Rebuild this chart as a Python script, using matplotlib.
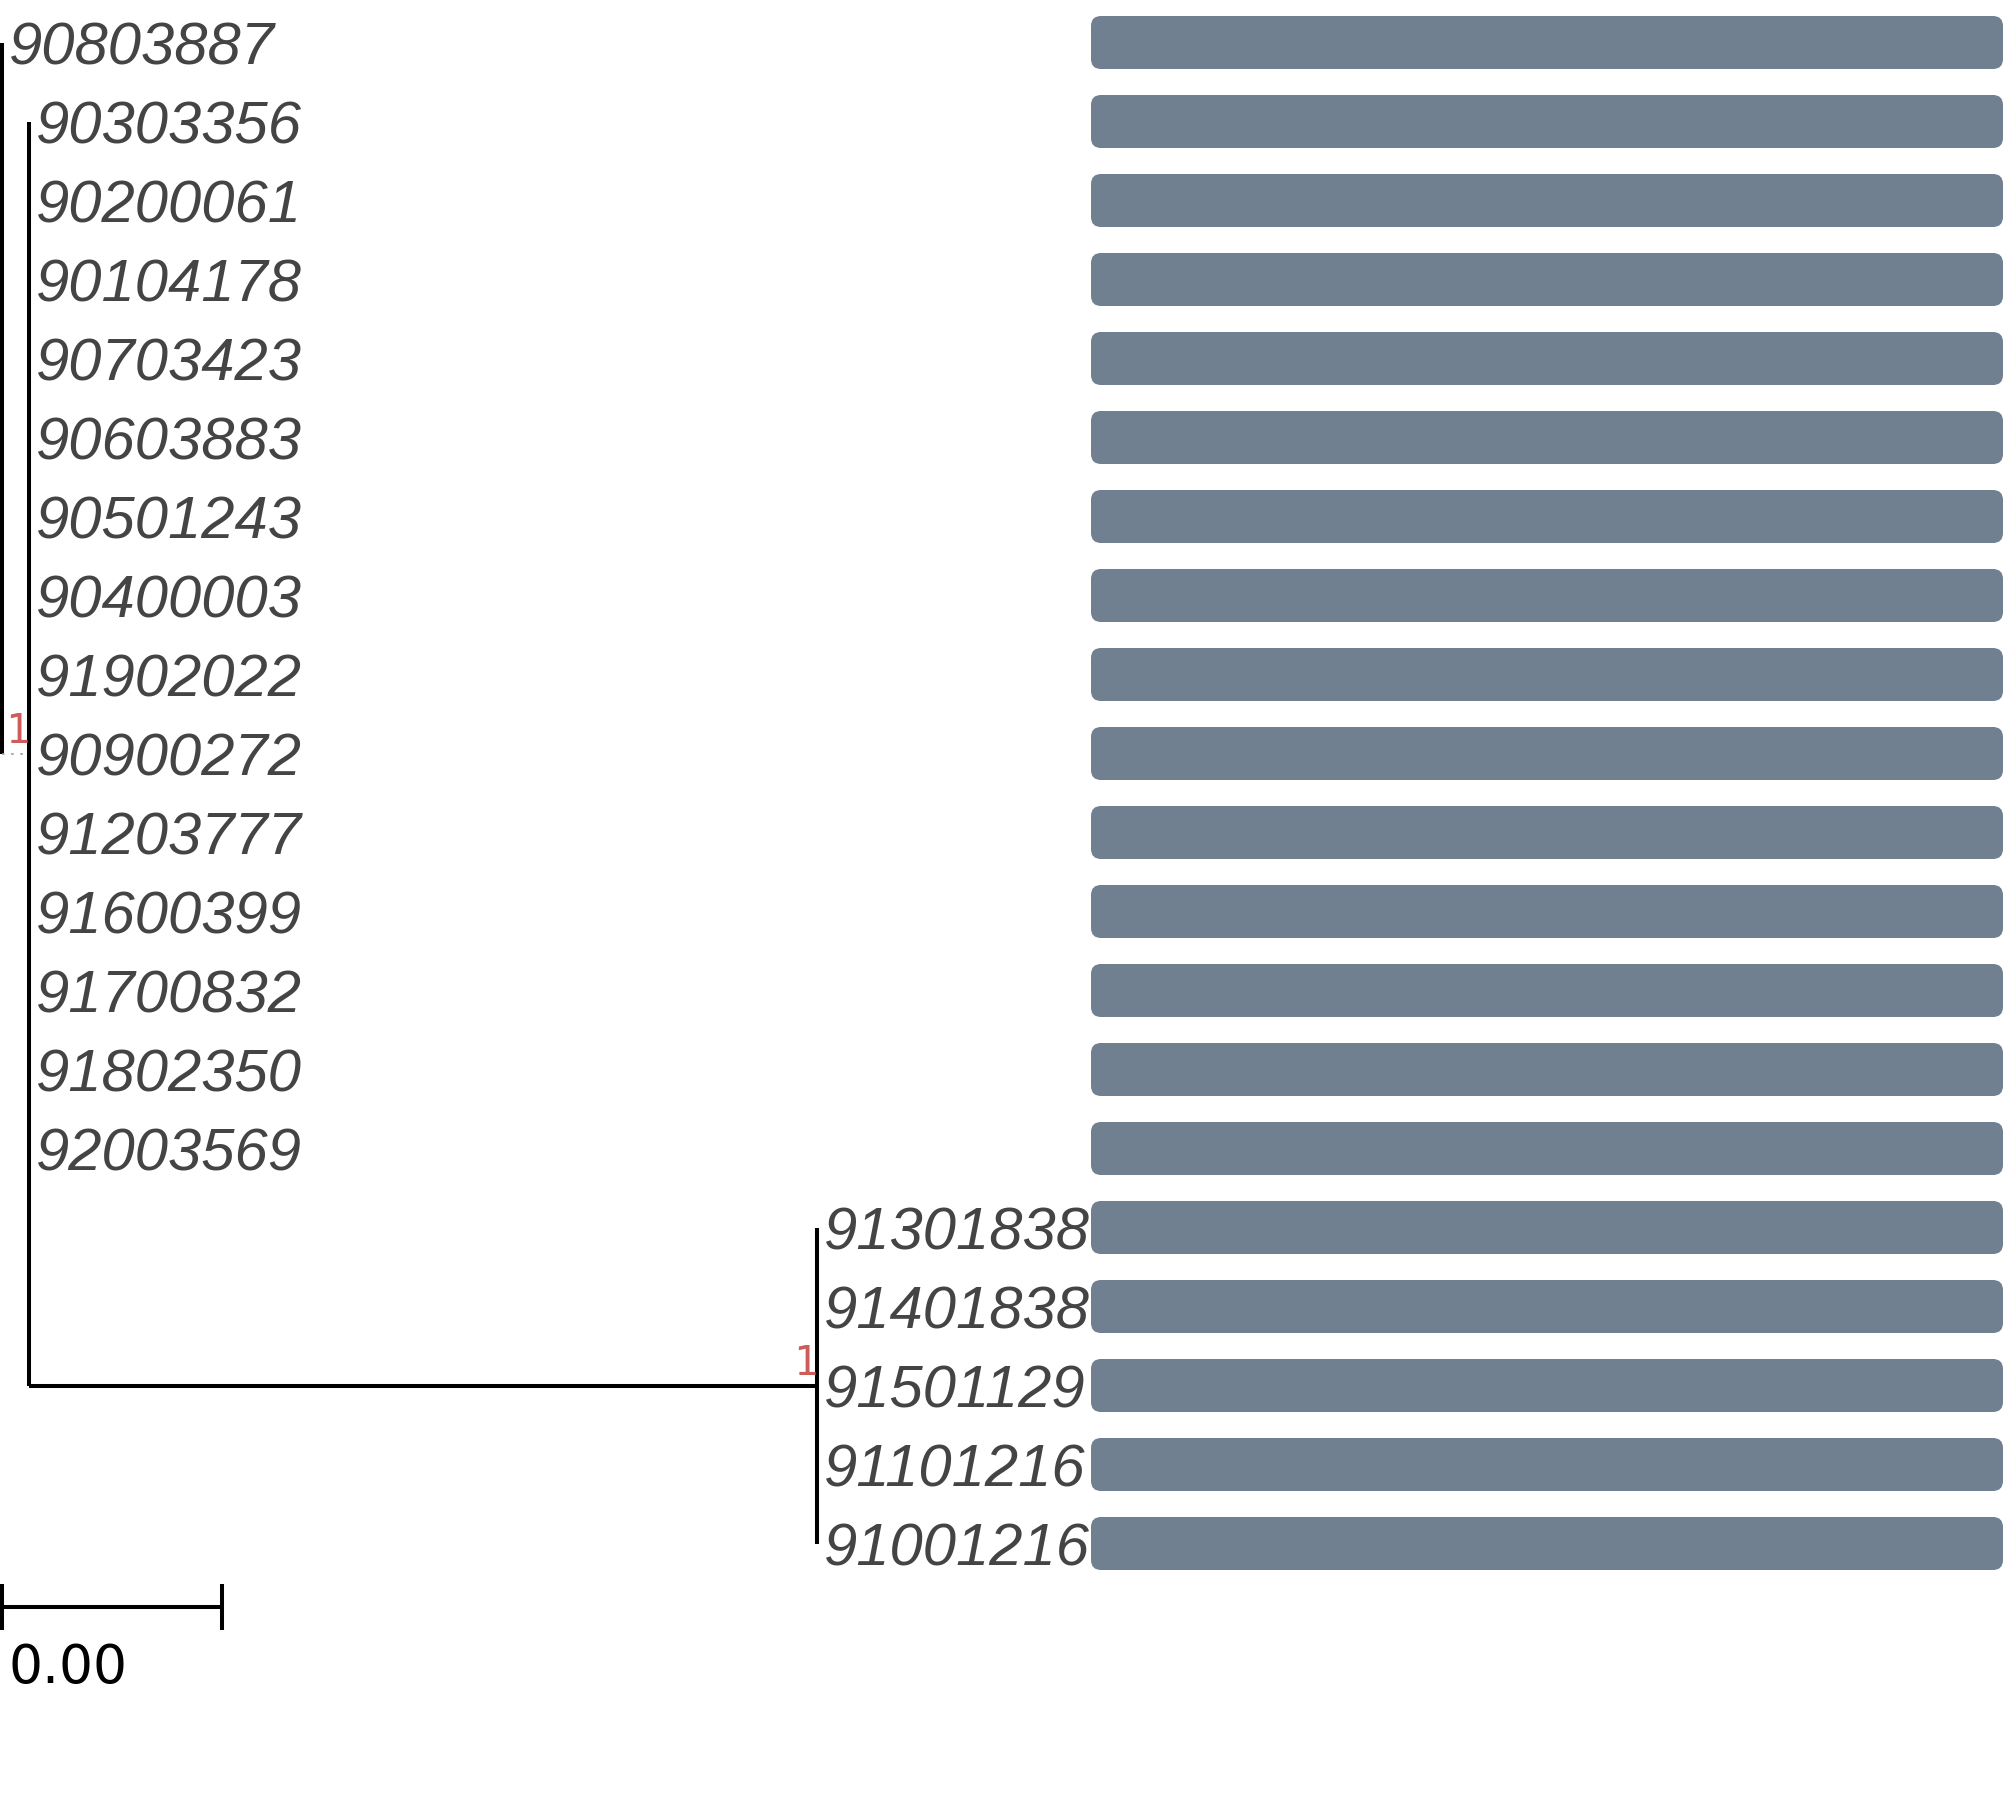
import matplotlib
matplotlib.use("Agg")
import matplotlib.pyplot as plt
from matplotlib.patches import FancyBboxPatch

# ================= DATA =================
# tips, top to bottom
tips = ["90803887", "90303356", "90200061", "90104178", "90703423",
        "90603883", "90501243", "90400003", "91902022", "90900272",
        "91203777", "91600399", "91700832", "91802350", "92003569",
        "91301838", "91401838", "91501129", "91101216", "91001216"]
# parent node of each tip
tip_parent = ["root"] + ["A"] * 14 + ["B"] * 5
# internal nodes: parent and branch length
node_parent = {"root": None, "A": "root", "B": "A"}
node_branch = {"root": 0.0, "A": 0.00049, "B": 0.01433}
node_support = {"A": "1", "B": "1"}
bar_values = [1, 1, 1, 1, 1, 1, 1, 1, 1, 1,
              1, 1, 1, 1, 1, 1, 1, 1, 1, 1]
scale_width = 0.004

# ================= LAYOUT =================
W, H = 2007, 1806
dpi = 100
k = 55000.0            # px per tree unit
x0 = 2.0               # px of root
row0 = 43.5            # px of first row center
row_h = 79.0           # px between rows
bar_left, bar_right = 1091, 2003

text_col = "#444444"
line_col = "black"
lw = 2.9

ylim = (1 + (H - row0) / row_h, 1 - row0 / row_h)

fig = plt.figure(figsize=(W / dpi, H / dpi), dpi=dpi)
ax = fig.add_axes([0, 0, 1, 1])
ax.set_xlim(-x0 / k, (W - x0) / k)
ax.set_ylim(*ylim)
ax.axis("off")

# depths of nodes
depth = {}
for n in ["root", "A", "B"]:
    p = node_parent[n]
    depth[n] = node_branch[n] + (depth[p] if p else 0.0)

# y position of nodes
rows = {t: i + 1 for i, t in enumerate(tips)}
children = {n: [] for n in depth}
for t, p in zip(tips, tip_parent):
    children[p].append(("tip", t))
for n, p in node_parent.items():
    if p:
        children[p].append(("node", n))

ypos = {}
def node_y(n):
    ys = []
    for kind, c in children[n]:
        ys.append(rows[c] if kind == "tip" else node_y(c))
    ypos[n] = (min(ys) + max(ys)) / 2
    return ypos[n]
node_y("root")

# vertical lines of nodes
for n in depth:
    ys = [rows[c] if kind == "tip" else ypos[c] for kind, c in children[n]]
    ax.plot([depth[n], depth[n]], [min(ys), max(ys)], color=line_col,
            lw=lw, solid_capstyle="butt")

# horizontal branches of internal nodes
for n, p in node_parent.items():
    if p is None:
        continue
    if n == "A":
        ax.plot([depth[p], depth[n]], [ypos[n], ypos[n]], color="#999999",
                lw=1.2, ls=(0, (1.5, 4)))
    else:
        ax.plot([depth[p], depth[n]], [ypos[n], ypos[n]], color=line_col,
                lw=lw, solid_capstyle="butt")

# tip labels
for t, p in zip(tips, tip_parent):
    ax.text(depth[p] + 7 / k, rows[t] + 0.272, t, ha="left", va="baseline",
            fontsize=43, style="italic", family="Liberation Sans",
            color=text_col)

# support values
for n, s in node_support.items():
    ax.text(depth[n], ypos[n] - 0.15, s, ha="right", va="baseline",
            fontsize=29, family="DejaVu Sans Mono", color="#CD5C5C")

# scale bar
sb_y = 20.80
ax.plot([0, scale_width], [sb_y, sb_y], color="black", lw=lw,
        solid_capstyle="butt")
for xx in [0, scale_width]:
    ax.plot([xx, xx], [sb_y - 0.29, sb_y + 0.29], color="black", lw=lw,
            solid_capstyle="butt")
ax.text(7 / k, sb_y + 0.95, f"{scale_width:.2f}", ha="left", va="baseline",
        fontsize=38.5, family="DejaVu Sans", color="black")

# ================= BARS =================
bx = fig.add_axes([bar_left / W, 0, (bar_right - bar_left) / W, 1])
bx.set_xlim(0, max(bar_values))
bx.set_ylim(*ylim)
bx.axis("off")
aspect = (bar_right - bar_left) / row_h
bar_h = 53 / row_h
for t, v in zip(tips, bar_values):
    bx.add_patch(FancyBboxPatch((0, rows[t] - bar_h / 2), v, bar_h,
                                boxstyle="round,pad=0,rounding_size=0.011",
                                mutation_aspect=aspect, facecolor="#708090",
                                edgecolor="none"))

fig.savefig("out.png", dpi=dpi)
